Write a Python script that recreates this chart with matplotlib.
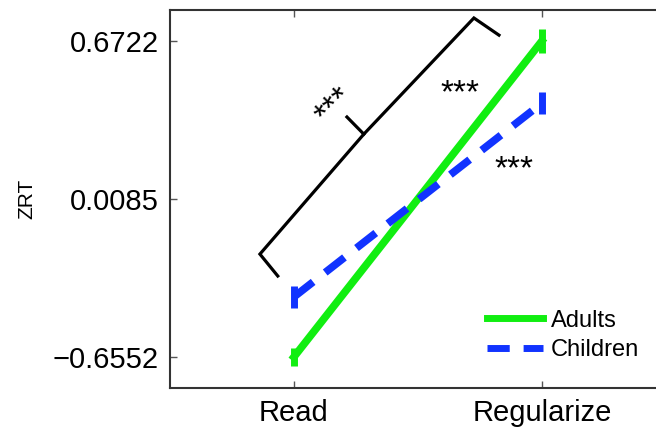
import matplotlib.pyplot as plt

# condition positions and labels
conditions = ['Read', 'Regularize']
x_pos = [1, 2]

# mean ZRT per group and error bar half-widths
adults = [-0.6552, 0.6722]
adults_err = [0.038, 0.05]
children = [-0.403, 0.411]
children_err = [0.045, 0.045]

yticks = [-0.6552, 0.0085, 0.6722]

# significance bracket (data units)
brace_low_x = [0.935, 0.863, 1.282, 1.214]
brace_low_y = [-0.315, -0.223, 0.281, 0.353]
brace_up_x = [1.282, 1.726, 1.827]
brace_up_y = [0.281, 0.769, 0.697]

green = '#11ee11'
blue = '#1133ff'

plt.rcParams['font.family'] = ['Liberation Sans', 'DejaVu Sans']

fig = plt.figure(figsize=(6.56, 4.30), dpi=100)
ax = fig.add_axes([0.259, 0.0977, 0.756, 0.879])

dash = (0, (3.2, 2.0))
ax.plot(x_pos, adults, color=green, lw=5.5, label='Adults')
ax.plot(x_pos, children, color=blue, lw=5.5, ls=dash, label='Children')
ax.errorbar(x_pos, adults, yerr=adults_err, fmt='none', ecolor=green,
            elinewidth=5, capsize=0)
ax.errorbar(x_pos, children, yerr=children_err, fmt='none', ecolor=blue,
            elinewidth=5, capsize=0)

# bracket and stars
ax.plot(brace_low_x, brace_low_y, color='black', lw=2.3, solid_joinstyle='miter')
ax.plot(brace_up_x, brace_up_y, color='black', lw=2.3, solid_joinstyle='miter')
ax.text(1.161, 0.40, '***', fontsize=24, rotation=45, ha='center', va='center')
ax.text(1.669, 0.45, '***', fontsize=24, ha='center', va='center')
ax.text(1.887, 0.131, '***', fontsize=24, ha='center', va='center')

ax.set_xlim(0.5, 2.5)
ax.set_ylim(-0.7855, 0.8025)
ax.set_xticks(x_pos)
ax.set_xticklabels(conditions, fontsize=21)
ax.set_yticks(yticks)
ax.set_yticklabels(['\u22120.6552', '0.0085', '0.6722'], fontsize=21)
ax.set_ylabel('ZRT', fontsize=15, labelpad=12)

ax.tick_params(direction='in', top=True, right=True, length=5, width=1,
               color='#555555', pad=8)
for sp in ax.spines.values():
    sp.set_color('#333333')
    sp.set_linewidth(1.5)

leg = ax.legend(loc='upper left', bbox_to_anchor=(0.639, 0.207), frameon=False,
                fontsize=17, handlelength=2.4, handletextpad=0.3,
                labelspacing=0.32, borderpad=0, borderaxespad=0)
for h in leg.legend_handles:
    h.set_linewidth(5)

fig.savefig('out.png', dpi=100)
